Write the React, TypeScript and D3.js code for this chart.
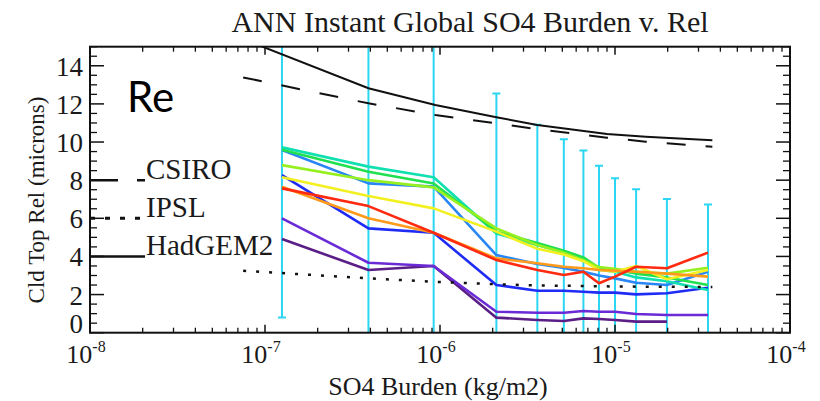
import React from "react";
import * as d3 from "d3";

const title = "ANN Instant Global SO4 Burden v. Rel";
const xLabel = "SO4 Burden (kg/m2)";
const yLabel = "Cld Top Rel (microns)";
const panelLabel = "Re";

const xDomain = [1e-8, 1e-4];
const yDomain = [0, 15];
const xTickExps = [-8, -7, -6, -5, -4];
const yTickValues = [0, 2, 4, 6, 8, 10, 12, 14];

// error bar positions (kg/m2) and ranges (microns)
const barX = [1.25e-7, 3.9e-7, 9.2e-7, 2.1e-6, 3.6e-6, 5.1e-6, 6.6e-6, 8.1e-6, 1.0e-5, 1.32e-5, 1.98e-5, 3.4e-5];
const barLow = [0.8, -1, -1, -1, -1, -1, -1, -1, -1, -1, -1, -1];
const barHigh = [20, 20, 20, 12.55, 10.9, 10.14, 9.55, 8.76, 8.1, 7.52, 7.01, 6.73];

// model reference lines
const modelX = [7.5e-8, 3.9e-7, 9.4e-7, 2.1e-6, 3.6e-6, 9e-6, 1.5e-5, 3.6e-5];
const hadgem2 = [15.4, 12.82, 11.94, 11.3, 10.89, 10.42, 10.28, 10.1];
const csiro = [13.39, 12.03, 11.42, 10.98, 10.67, 10.23, 10.02, 9.75];
const ipsl = [3.25, 2.85, 2.67, 2.54, 2.48, 2.43, 2.41, 2.4];

// colored ensemble lines (at barX)
const darkPurple = [4.91, 3.29, 3.5, 0.79, 0.67, 0.61, 0.75, 0.72, 0.67, 0.58, 0.58];
const purple = [6.0, 3.67, 3.5, 1.1, 1.05, 1.05, 1.14, 1.1, 1.1, 0.98, 0.93, 0.93];
const blue = [8.27, 5.47, 5.24, 2.5, 2.2, 2.2, 2.15, 2.1, 2.1, 2.01, 2.07, 2.36];
const azure = [9.58, 7.83, 7.66, 4.07, 3.6, 3.4, 3.2, 3.0, 2.85, 2.62, 2.5, 3.2];
const cyanGreen = [9.72, 8.71, 8.15, 5.2, 4.6, 4.2, 3.9, 3.3, 3.2, 2.9, 2.7, 2.24];
const green = [9.6, 8.44, 7.83, 5.3, 4.7, 4.3, 3.95, 3.4, 3.3, 3.1, 2.9, 2.5];
const lime = [8.79, 8.0, 7.62, 5.47, 4.6, 4.2, 3.8, 3.45, 3.35, 3.2, 3.1, 3.41];
const yellow = [8.15, 7.17, 6.52, 5.3, 4.4, 4.1, 3.75, 3.3, 3.2, 3.5, 2.8, 3.29];
const orange = [7.65, 6.0, 5.24, 3.9, 3.64, 3.46, 3.38, 3.29, 3.25, 3.2, 3.1, 2.94];
const red = [7.57, 6.64, 5.24, 3.81, 3.29, 3.03, 3.2, 2.59, 2.94, 3.46, 3.38, 4.2];

const ensemble = [
  { values: darkPurple, color: "#5a1e86" },
  { values: purple, color: "#6a2ad6" },
  { values: blue, color: "#1f2cf5" },
  { values: azure, color: "#2a86f5" },
  { values: cyanGreen, color: "#10e0b0" },
  { values: green, color: "#20e050" },
  { values: lime, color: "#96f020" },
  { values: yellow, color: "#f2f020" },
  { values: orange, color: "#ff9a1a" },
  { values: red, color: "#ff2a10" },
];

const legend = [
  { name: "CSIRO", value: 8, dash: "28,19" },
  { name: "IPSL", value: 6, dash: "5,10" },
  { name: "HadGEM2", value: 4, dash: "" },
];

const W = 820;
const H = 401;
const L = 90, R = 790, T = 46.7, B = 332.7;

export default function App() {
  const x = d3.scaleLog().domain(xDomain).range([L, R]);
  const y = d3.scaleLinear().domain(yDomain).range([B, T]);

  const lineGen = (xs: number[]) =>
    d3
      .line<number>()
      .x((_, i) => x(xs[i]))
      .y((v) => y(v));

  const xMinor: number[] = [];
  for (let e = -8; e < -4; e++) for (let k = 2; k <= 9; k++) xMinor.push(k * Math.pow(10, e));
  const yMinor = d3.range(0, 15.01, 0.5).filter((v) => v % 2 !== 0);

  const serif = "'Liberation Serif', 'DejaVu Serif', serif";
  const ink = "#1a1a1a";

  return (
    <div style={{ position: "fixed", left: 0, top: 0 }}>
      <svg width={W} height={H} style={{ display: "block", background: "#fff" }}>
        <defs>
          <clipPath id="plotclip">
            <rect x={L} y={T} width={R - L} height={B - T} />
          </clipPath>
        </defs>
        <text x={470} y={32} textAnchor="middle" fontFamily={serif} fontSize={30} fill={ink}>
          {title}
        </text>

        <g clipPath="url(#plotclip)">
          {barX.map((bx, i) => {
            const px = x(bx);
            const lo = y(barLow[i]);
            const hi = y(barHigh[i]);
            return (
              <g key={"b" + i} stroke="#2bd6f2" strokeWidth={2}>
                <line x1={px} x2={px} y1={lo} y2={hi} />
                {barHigh[i] < 15 && <line x1={px - 4} x2={px + 4} y1={hi} y2={hi} />}
                {barLow[i] > 0 && <line x1={px - 4} x2={px + 4} y1={lo} y2={lo} />}
              </g>
            );
          })}
          {ensemble.map((s, i) => (
            <path
              key={"e" + i}
              d={lineGen(barX)(s.values) || ""}
              fill="none"
              stroke={s.color}
              strokeWidth={2.6}
              strokeLinejoin="round"
            />
          ))}
          <path d={lineGen(modelX)(hadgem2) || ""} fill="none" stroke="#111" strokeWidth={2} />
          <path d={lineGen(modelX)(csiro) || ""} fill="none" stroke="#111" strokeWidth={2} strokeDasharray="19,20" />
          <path d={lineGen(modelX)(ipsl) || ""} fill="none" stroke="#111" strokeWidth={2.5} strokeDasharray="3,10" />
        </g>

        {/* frame */}
        <rect x={L} y={T} width={R - L} height={B - T} fill="none" stroke="#111" strokeWidth={2} />

        {/* x ticks */}
        {xTickExps.map((e) => {
          const px = x(Math.pow(10, e));
          return (
            <g key={"xt" + e}>
              <line x1={px} x2={px} y1={B} y2={B - 8} stroke="#111" strokeWidth={1.5} />
              <line x1={px} x2={px} y1={T} y2={T + 8} stroke="#111" strokeWidth={1.5} />
              <text x={px - 4} y={363} textAnchor="middle" fontFamily={serif} fontSize={26} fill={ink}>
                10
                <tspan fontSize={16} dy={-11}>
                  {e}
                </tspan>
              </text>
            </g>
          );
        })}
        {xMinor.map((v, i) => {
          const px = x(v);
          return (
            <g key={"xm" + i} stroke="#111" strokeWidth={1.3}>
              <line x1={px} x2={px} y1={B} y2={B - 5} />
              <line x1={px} x2={px} y1={T} y2={T + 5} />
            </g>
          );
        })}

        {/* y ticks */}
        {yTickValues.map((v) => {
          const py = y(v);
          return (
            <g key={"yt" + v}>
              <line x1={L} x2={L + 14} y1={py} y2={py} stroke="#111" strokeWidth={1.5} />
              <line x1={R} x2={R - 14} y1={py} y2={py} stroke="#111" strokeWidth={1.5} />
              <text
                x={83}
                y={py + (v === 0 ? 0 : 10)}
                textAnchor="end"
                fontFamily={serif}
                fontSize={27}
                fill={ink}
              >
                {v}
              </text>
            </g>
          );
        })}
        {yMinor.map((v, i) => {
          const py = y(v);
          return (
            <g key={"ym" + i} stroke="#111" strokeWidth={1.3}>
              <line x1={L} x2={L + 7} y1={py} y2={py} />
              <line x1={R} x2={R - 7} y1={py} y2={py} />
            </g>
          );
        })}

        {/* legend */}
        {legend.map((l) => {
          const py = y(l.value);
          return (
            <g key={l.name}>
              <line
                x1={L}
                x2={145}
                y1={py}
                y2={py}
                stroke="#111"
                strokeWidth={l.name === "IPSL" ? 3 : 2.5}
                strokeDasharray={l.dash || undefined}
              />
              <text x={146} y={py - 1} fontFamily={serif} fontSize={29} fill={ink}>
                {l.name}
              </text>
            </g>
          );
        })}

        <text x={127} y={112} fontFamily="Lato, 'Open Sans', sans-serif" fontSize={42} fill="#000">
          {panelLabel}
        </text>

        <text x={438} y={395} textAnchor="middle" fontFamily={serif} fontSize={26} fill={ink}>
          {xLabel}
        </text>
        <text
          transform={`translate(44, 200) rotate(-90)`}
          textAnchor="middle"
          fontFamily={serif}
          fontSize={23}
          fill={ink}
        >
          {yLabel}
        </text>
      </svg>
    </div>
  );
}
